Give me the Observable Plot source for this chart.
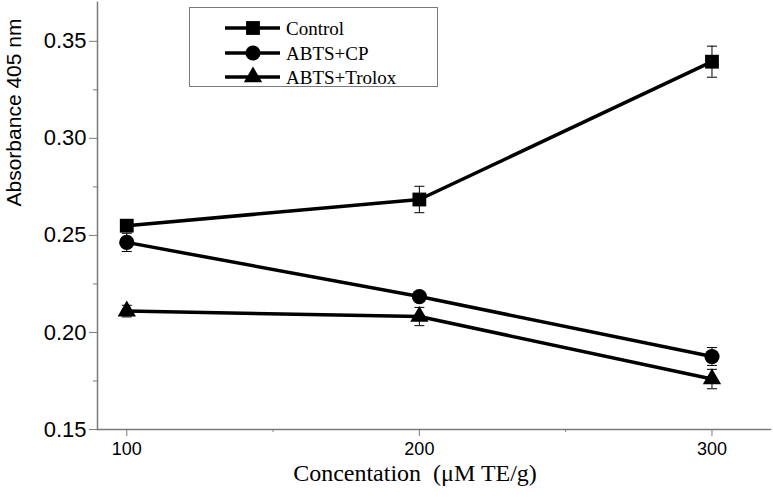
<!DOCTYPE html>
<html><head><meta charset="utf-8">
<script src="https://cdn.jsdelivr.net/npm/d3@7"></script>
<script src="https://cdn.jsdelivr.net/npm/@observablehq/plot@0.6"></script>
<style>
body{margin:0;background:#fff;}
#wrap{position:relative;width:773px;height:497px;}
#legend{position:absolute;left:189px;top:7px;width:249px;height:80px;border:1.5px solid #7a7a7a;box-sizing:border-box;background:#fff;}
#legend svg{position:absolute;left:0;top:0;}
</style>
</head><body>
<div id="wrap"></div>
<script>
const concentrations = [100, 200, 300];
const seriesNames = ["Control", "ABTS+CP", "ABTS+Trolox"];
const controlMean = [0.2550, 0.2685, 0.3395];
const controlErr  = [0.0020, 0.0068, 0.0080];
const cpMean      = [0.2464, 0.2185, 0.1876];
const cpErr       = [0.0047, 0.0020, 0.0046];
const troloxMean  = [0.2110, 0.2082, 0.1760];
const troloxErr   = [0.0030, 0.0047, 0.0050];
const yTicks = [0.15, 0.20, 0.25, 0.30, 0.35];
const yMinorTicks = [0.175, 0.225, 0.275, 0.325];
const xTicks = [100, 200, 300];
const xMinorTicks = [150, 250];
const yLabel = "Absorbance 405 nm";
const xLabel = "Concentation\u2002(\u03BCM TE/g)";

const means = [controlMean, cpMean, troloxMean];
const errs = [controlErr, cpErr, troloxErr];
const table = [];
seriesNames.forEach((s, i) => concentrations.forEach((c, j) => {
  table.push({series: s, conc: c, value: means[i][j], lo: means[i][j] - errs[i][j], hi: means[i][j] + errs[i][j]});
}));

const markerStyle = {
  "Control": {symbol: "square", r: 7.8},
  "ABTS+CP": {symbol: "circle", r: 7.6},
  "ABTS+Trolox": {symbol: "triangle", r: 6.8}
};
const capSymbol = {draw(ctx, size) { const w = Math.sqrt(size) / 2; ctx.moveTo(-w, 0); ctx.lineTo(w, 0); }};
const axisColor = "#7a7a7a";

const chart = Plot.plot({
  width: 773, height: 497,
  marginLeft: 97, marginRight: 3, marginTop: 2, marginBottom: 68,
  x: {domain: [90, 320]},
  y: {domain: [0.15, 0.37]},
  style: {fontFamily: "'Liberation Sans', Arial, sans-serif", background: "white", color: "black"},
  marks: [
    Plot.axisY(yTicks, {tickSize: 8, tickPadding: 3, tickFormat: ".2f", fontSize: 22, stroke: axisColor, fill: "black", label: null}),
    Plot.axisY(yMinorTicks, {tickSize: 4, tickFormat: () => "", stroke: axisColor, label: null}),
    Plot.axisX(xTicks, {tickSize: 7, tickPadding: 6, fontSize: 18, stroke: axisColor, fill: "black", label: null}),
    Plot.axisX(xMinorTicks, {tickSize: 3, tickFormat: () => "", stroke: axisColor, label: null}),
    Plot.frame({anchor: "left", stroke: axisColor, strokeWidth: 1.5}),
    Plot.frame({anchor: "bottom", stroke: axisColor, strokeWidth: 1.5}),
    Plot.text([yLabel], {frameAnchor: "left", rotate: -90, dx: -83, dy: -9.5, fontSize: 21, fill: "black"}),
    Plot.text([xLabel], {frameAnchor: "bottom", dx: -19, dy: 51, fontSize: 24, fontFamily: "'Liberation Serif', 'Times New Roman', serif", fill: "black"}),
    Plot.ruleX(table, {x: "conc", y1: "lo", y2: "hi", stroke: "black", strokeWidth: 1}),
    Plot.dot(table, {x: "conc", y: "lo", symbol: capSymbol, r: 5.64, stroke: "black", fill: "none", strokeWidth: 1}),
    Plot.dot(table, {x: "conc", y: "hi", symbol: capSymbol, r: 5.64, stroke: "black", fill: "none", strokeWidth: 1}),
    Plot.line(table, {x: "conc", y: "value", z: "series", stroke: "black", strokeWidth: 3.5}),
    ...seriesNames.map(s => Plot.dot(table, {filter: d => d.series === s, x: "conc", y: "value", symbol: markerStyle[s].symbol, r: markerStyle[s].r, fill: "black", stroke: "none"}))
  ]
});
document.getElementById("wrap").appendChild(chart);

// legend
const legend = d3.select("#wrap").append("div").attr("id", "legend");
const lsvg = legend.append("svg").attr("width", 249).attr("height", 80);
const rowY = [20, 45, 69];
seriesNames.forEach((s, i) => {
  const g = lsvg.append("g").attr("transform", `translate(0,${rowY[i]})`);
  g.append("line").attr("x1", 35).attr("x2", 90).attr("y1", 0).attr("y2", 0).attr("stroke", "black").attr("stroke-width", 3.5);
  const symType = {square: d3.symbolSquare, circle: d3.symbolCircle, triangle: d3.symbolTriangle}[markerStyle[s].symbol];
  const r = markerStyle[s].r;
  g.append("path").attr("transform", "translate(63,0)").attr("d", d3.symbol(symType, Math.PI * r * r)()).attr("fill", "black");
  g.append("text").attr("x", 96).attr("y", 0).attr("dy", "0.35em").attr("font-family", "'Liberation Serif', 'Times New Roman', serif").attr("font-size", 19).attr("fill", "black").text(s);
});
</script>
</body></html>
